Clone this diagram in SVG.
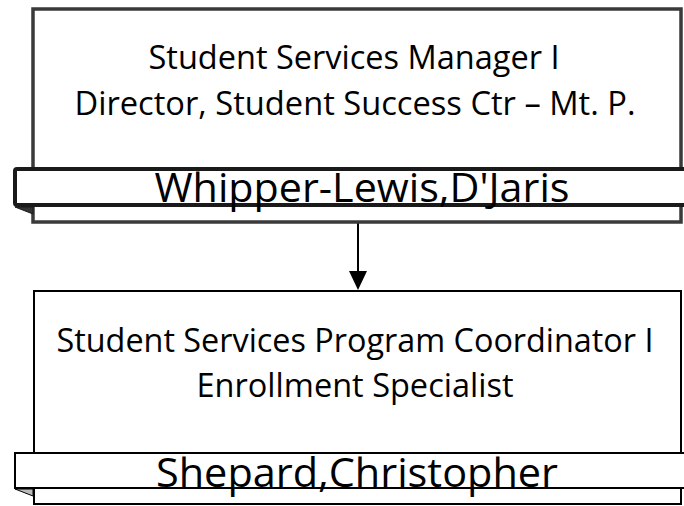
<svg xmlns="http://www.w3.org/2000/svg" width="684" height="506" viewBox="0 0 684 506">
<style>
text{font-family:"Open Sans","Noto Sans","Liberation Sans",sans-serif;fill:#000;text-anchor:middle}
.t{font-size:33px}
.n{font-size:41px}
.b1{fill:#fff;stroke:#3a3a3a;stroke-width:3.5}
.nb1{fill:#fff;stroke:#1a1a1a;stroke-width:4}
.b2{fill:#fff;stroke:#000;stroke-width:2}
</style>
<g id="connectors">
<line x1="358" y1="222" x2="358" y2="272" stroke="#000" stroke-width="2"/>
<path d="M349,271 L367,271 L358,290 Z" fill="#000"/>
</g>
<g id="node-top">
<rect class="b1" x="33" y="9" width="648" height="213"/>
<path d="M15,207 L33,207 L33,214 Z" fill="#333" stroke="#1a1a1a" stroke-width="1"/>
<rect class="nb1" x="15" y="169" width="690" height="36" rx="2"/>
<text class="t" x="354" y="69" textLength="411" lengthAdjust="spacingAndGlyphs">Student Services Manager I</text>
<text class="t" x="355" y="115" textLength="561" lengthAdjust="spacingAndGlyphs">Director, Student Success Ctr – Mt. P.</text>
<text class="n" x="362" y="202" textLength="415" lengthAdjust="spacingAndGlyphs">Whipper-Lewis,D'Jaris</text>
</g>
<g id="node-bottom">
<rect class="b2" x="34" y="291" width="647" height="213"/>
<path d="M15,489 L33,489 L33,496 Z" fill="#bbb" stroke="#000" stroke-width="1"/>
<rect class="b2" x="15" y="453" width="690" height="35"/>
<text class="t" x="355" y="352" textLength="597" lengthAdjust="spacingAndGlyphs">Student Services Program Coordinator I</text>
<text class="t" x="355" y="397" textLength="317" lengthAdjust="spacingAndGlyphs">Enrollment Specialist</text>
<text class="n" x="357" y="487" textLength="402" lengthAdjust="spacingAndGlyphs">Shepard,Christopher</text>
</g>
</svg>
